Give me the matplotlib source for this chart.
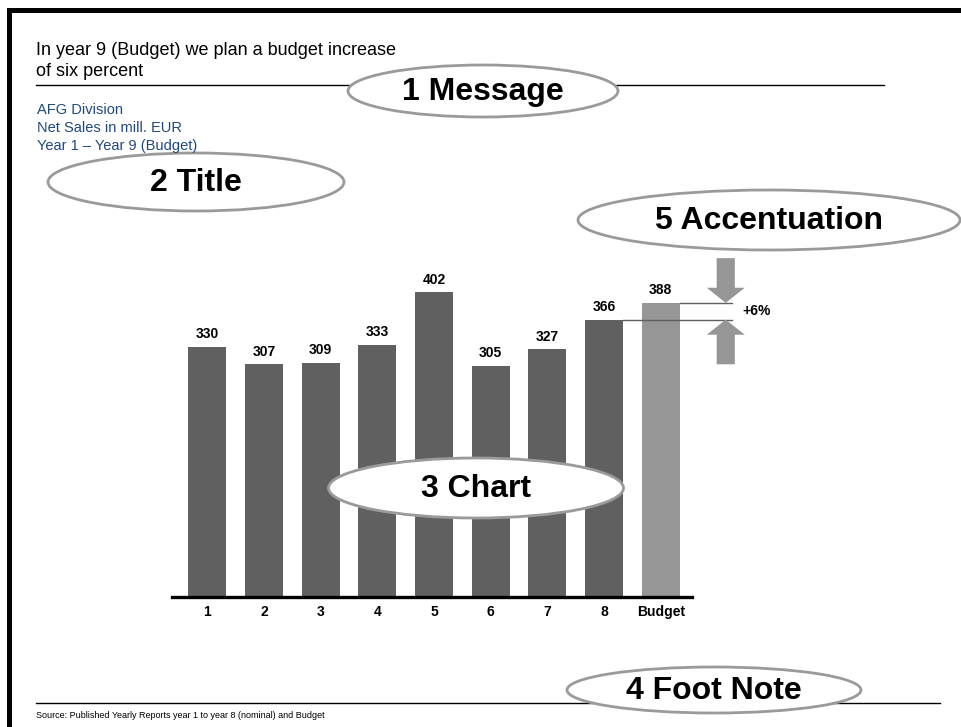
from __future__ import annotations

import matplotlib

matplotlib.use("Agg")
import matplotlib.pyplot as plt
from matplotlib.patches import Ellipse, FancyArrow, Rectangle

FIG_W, FIG_H = 961, 727

CATEGORIES = ["1", "2", "3", "4", "5", "6", "7", "8", "Budget"]
NET_SALES = [330, 307, 309, 333, 402, 305, 327, 366, 388]

MESSAGE = "In year 9 (Budget) we plan a budget increase\nof six percent"
TITLE_LINES = ["AFG Division", "Net Sales in mill. EUR", "Year 1 \u2013 Year 9 (Budget)"]
SOURCE = "Source: Published Yearly Reports year 1 to year 8 (nominal) and Budget"

# callout bubbles: label, centre x/y, width, height (pixels)
BUBBLES = [
    ("1 Message", 483, 91, 270, 52, True),
    ("2 Title", 196, 182, 296, 58, False),
    ("5 Accentuation", 769, 220, 382, 60, True),
    ("3 Chart", 476, 488, 295, 60, True),
    ("4 Foot Note", 714, 690, 294, 46, True),
]

DARK = "#606060"
LIGHT = "#969696"
BLUE = "#1f497d"
RING = "#9a9a9a"


def fx(px: float) -> float:
    return px / FIG_W


def fy(py: float) -> float:
    return 1 - py / FIG_H


def _frame(fig) -> None:
    # thick black page edge on top and left
    fig.patches.append(Rectangle((fx(7), fy(13)), fx(954), 5 / FIG_H, transform=fig.transFigure,
                                 facecolor="black", edgecolor="none", zorder=5))
    fig.patches.append(Rectangle((fx(7), 0), 5 / FIG_W, fy(8), transform=fig.transFigure,
                                 facecolor="black", edgecolor="none", zorder=5))


def _header_footer(fig) -> None:
    fig.text(fx(36), fy(42), MESSAGE, fontsize=13, va="top", ha="left", linespacing=1.3)
    fig.add_artist(plt.Line2D([fx(36), fx(884)], [fy(85), fy(85)], color="black", lw=1.0,
                              transform=fig.transFigure, zorder=1))
    fig.text(fx(37), fy(103), "\n".join(TITLE_LINES), fontsize=10.5, color=BLUE, va="top",
             ha="left", linespacing=1.35)
    fig.add_artist(plt.Line2D([fx(36), fx(940)], [fy(703), fy(703)], color="black", lw=1.0,
                              transform=fig.transFigure, zorder=1))
    fig.text(fx(36), fy(716), SOURCE, fontsize=6.5, va="center", ha="left")


def _bubbles(fig) -> None:
    for label, cx, cy, w, h, filled in BUBBLES:
        fig.patches.append(Ellipse((fx(cx), fy(cy)), w / FIG_W, h / FIG_H, transform=fig.transFigure,
                                   facecolor="white" if filled else "none", edgecolor=RING,
                                   lw=2.0, zorder=2))
        fig.text(fx(cx), fy(cy + 1), label, fontsize=23, fontweight="bold", ha="center",
                 va="center", zorder=3)


def _chart(fig) -> None:
    ax = fig.add_axes([fx(172), fy(597), 520 / FIG_W, 379 / FIG_H])
    x = list(range(len(CATEGORIES)))
    colors = [DARK] * (len(CATEGORIES) - 1) + [LIGHT]
    width = 0.67
    ax.bar(x, NET_SALES, width=width, color=colors, zorder=2)
    for xi, value in zip(x, NET_SALES):
        ax.annotate(f"{value}", (xi, value), xytext=(0, 4), textcoords="offset points",
                    ha="center", va="bottom", fontsize=10, fontweight="bold")

    ax.set_xlim(-0.62, 8.55)
    ax.set_ylim(0, 500)
    ax.set_xticks(x)
    ax.set_xticklabels(CATEGORIES, fontsize=10, fontweight="bold")
    ax.tick_params(axis="x", length=0, pad=6)
    ax.set_yticks([])
    for side in ("top", "right", "left"):
        ax.spines[side].set_visible(False)
    ax.spines["bottom"].set_linewidth(2.4)
    ax.spines["bottom"].set_zorder(3)

    # accentuation of the budget step
    prev, budget = NET_SALES[-2], NET_SALES[-1]
    line_end = 9.25
    ax.plot([8 + width / 2, line_end], [budget, budget], color=DARK, lw=1.0, clip_on=False, zorder=3)
    ax.plot([7 + width / 2, line_end], [prev, prev], color=DARK, lw=1.0, clip_on=False, zorder=3)
    arrow_x = 9.145
    arrow_len = 59
    kw = dict(width=0.32, head_width=0.67, head_length=20, length_includes_head=True,
              color=LIGHT, ec="none", clip_on=False, zorder=3)
    ax.add_patch(FancyArrow(arrow_x, budget + arrow_len, 0, -arrow_len, **kw))
    ax.add_patch(FancyArrow(arrow_x, prev - arrow_len, 0, arrow_len, **kw))
    growth = (budget / prev - 1) * 100
    ax.text(9.44, (budget + prev) / 2, f"+{growth:.0f}%", fontsize=10, fontweight="bold",
            ha="left", va="center", clip_on=False)


def main() -> None:
    plt.rcParams["font.family"] = ["Liberation Sans", "DejaVu Sans"]
    fig = plt.figure(figsize=(FIG_W / 100, FIG_H / 100), dpi=100)
    fig.patch.set_facecolor("white")
    _frame(fig)
    _header_footer(fig)
    _chart(fig)
    _bubbles(fig)
    fig.savefig("out.png", dpi=100, facecolor="white")
    plt.close(fig)


if __name__ == "__main__":
    main()
